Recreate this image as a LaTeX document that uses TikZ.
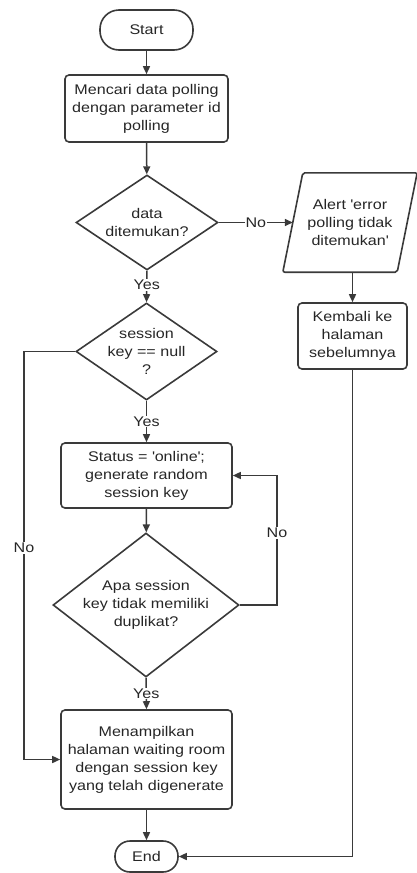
\documentclass[tikz,border=0pt]{standalone}
\usepackage{fontspec}
\setmainfont[FakeStretch=1.15]{Liberation Sans}
\usetikzlibrary{shapes.geometric,arrows.meta}
\definecolor{ln}{HTML}{3A3A3A}
\definecolor{tx}{HTML}{262626}
\newcommand{\sq}{\textquotesingle}
\begin{document}
\begin{tikzpicture}[x=1pt,y=-1pt,
  txt/.style={font=\fontsize{14}{18}\selectfont, text=tx, align=center},
  boxn/.style={txt, draw=ln, line width=1.6pt, rounded corners=4pt, inner sep=2pt},
  term/.style={txt, draw=ln, line width=1.6pt, rounded corners=15pt, inner sep=2pt},
  dia/.style={diamond, draw=ln, line width=1.6pt, inner sep=0pt},
  dtext/.style={txt},
  paratext/.style={txt, inner sep=0pt},
  lbl/.style={txt, fill=white, inner sep=1pt},
  conn/.style={draw=ln, line width=1.5pt, -{Triangle[length=8pt,width=7pt]}},
  plain/.style={draw=ln, line width=1.5pt}]
\useasboundingbox (0,0) rectangle (417,873);

% nodes
\node[term, minimum width=93, minimum height=40, rounded corners=19pt] (start) at (146.5,30) {Start};
\node[boxn, minimum width=163, minimum height=67] (b1) at (146.5,108.5) {Mencari data polling\\dengan parameter id\\polling};
\node[dia, minimum width=142, minimum height=95,
      label={[dtext,name=d1t]center:{data\\ditemukan?}}] (d1) at (147,222.5) {};
\node[paratext, minimum width=114, minimum height=99] (alert) at (350,222.5) {Alert \sq error\\polling tidak\\ditemukan\sq};
\draw[ln, line width=1.6pt, rounded corners=2pt]
  ([xshift=10pt]alert.north west) -- ([xshift=10pt]alert.north east)
  -- ([xshift=-10pt]alert.south east) -- ([xshift=-10pt]alert.south west) -- cycle;
\node[boxn, minimum width=109, minimum height=66] (kem) at (352.5,336) {Kembali ke\\halaman\\sebelumnya};
\node[dia, minimum width=141, minimum height=97,
      label={[dtext,name=d2t]center:{session\\key == null\\?}}] (d2) at (146.5,351.5) {};
\node[boxn, minimum width=171, minimum height=65] (b2) at (146.5,475.5) {Status = \sq online\sq;\\generate random\\session key};
\node[dia, minimum width=186, minimum height=144,
      label={[dtext,name=d3t]center:{Apa session\\key tidak memiliki\\duplikat?}}] (d3) at (146,605) {};
\node[boxn, minimum width=171, minimum height=99] (b3) at (146.5,759.5) {Menampilkan\\halaman waiting room\\dengan session key\\yang telah digenerate};
\node[term, minimum width=63, minimum height=31, rounded corners=15pt] (end) at (146.5,856.5) {End};

\coordinate (lx) at (24,0);
\coordinate (rx) at (277,0);

% connectors
\draw[conn] (start) -- (b1);
\draw[conn] (b1) -- (d1);
\draw[conn] (d1.east) -- (alert.west) node[lbl, midway] (no1) {No};
\draw[conn] (d1.south) -- (d2.north) node[lbl, pos=0.45] (yes1) {Yes};
\draw[conn] (alert.south -| kem.north) -- (kem.north);
\draw[conn] (d2.south) -- (b2.north) node[lbl, midway] (yes2) {Yes};
\draw[conn] (d2.west) -- (d2.west -| lx) |- (b3.west);
\node[lbl] (no2) at (24,548) {No};
\draw[conn] (b2) -- (d3);
\draw[conn] (d3.east) -- (d3.east -| rx) |- (b2.east);
\node[lbl] (no3) at (277,533) {No};
\draw[conn] (d3.south) -- (b3.north) node[lbl, midway] (yes3) {Yes};
\draw[conn] (b3) -- (end);
\draw[conn] (kem.south) |- (end.east);
\end{tikzpicture}
\end{document}
